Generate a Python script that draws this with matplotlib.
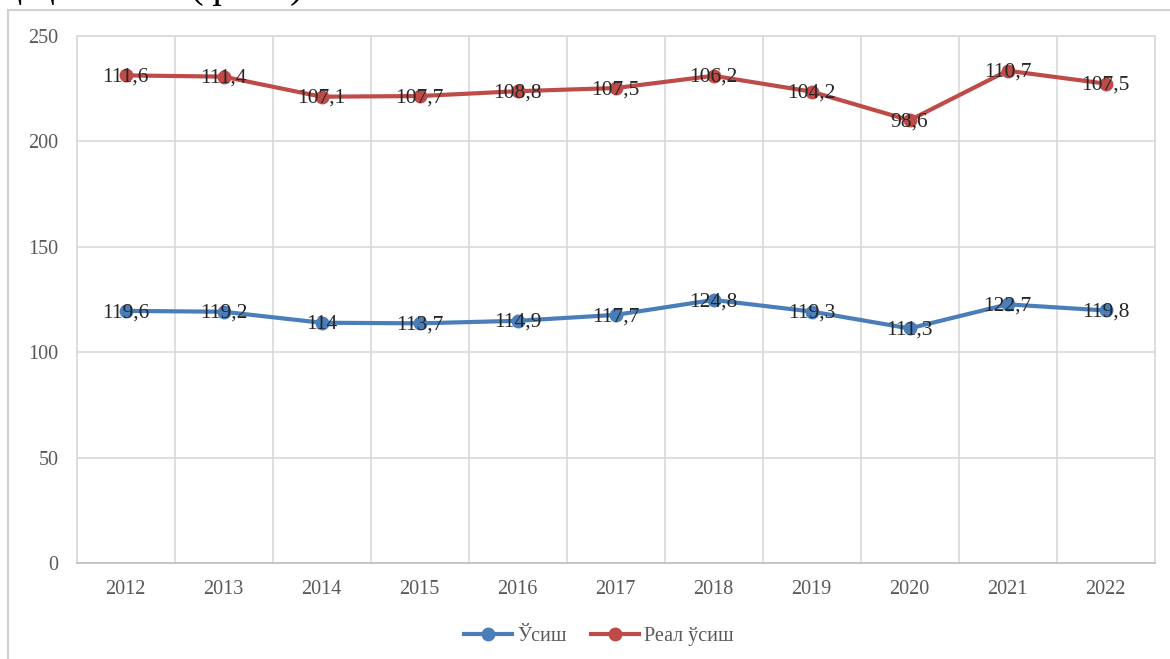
import matplotlib
matplotlib.use("Agg")
import matplotlib.pyplot as plt
from matplotlib.lines import Line2D
from matplotlib.patches import Rectangle
import numpy as np

years = ["2012", "2013", "2014", "2015", "2016", "2017", "2018", "2019", "2020", "2021", "2022"]
usish = [119.6, 119.2, 114.0, 113.7, 114.9, 117.7, 124.8, 119.3, 111.3, 122.7, 119.8]
real_usish = [111.6, 111.4, 107.1, 107.7, 108.8, 107.5, 106.2, 104.2, 98.6, 110.7, 107.5]
series_names = ["Ўсиш", "Реал ўсиш"]
yticks = [0, 50, 100, 150, 200, 250]

BLUE = "#4A7EBB"
RED = "#BE4B48"
GRID = "#D9D9D9"
TICK = "#595959"

plt.rcParams['font.family'] = ['Liberation Serif', 'DejaVu Serif']

fig = plt.figure(figsize=(11.7, 6.59), dpi=100)
W, H = 1170, 659

# chart area frame (cut off at right and bottom)
fig.patches.append(Rectangle((8 / W, -0.1), 1.2, (H - 10) / H + 0.1, transform=fig.transFigure,
                             fill=False, edgecolor="#D0D0D0", linewidth=1.5, zorder=0))
# clipped heading text from the document above
fig.text(0.0, (H - 6) / H, "ц ц             (фоиз)", fontsize=30, color="black",
         ha="left", va="bottom")

ax = fig.add_axes([76.5 / W, (H - 563.3) / H, (1154.5 - 76.5) / W, (563.3 - 35.7) / H])
x = np.arange(len(years))
blue = np.array(usish)
red_stack = blue + np.array(real_usish)

ax.plot(x, blue, color=BLUE, linewidth=3, marker="o", markersize=9, zorder=3)
ax.plot(x, red_stack, color=RED, linewidth=3, marker="o", markersize=9, zorder=3)

def fmt(v):
    return f"{v:g}".replace(".", ",")

for xi, yv, lab in zip(x, blue, usish):
    ax.text(xi, yv - 0.8, fmt(lab), ha="center", va="center", fontsize=15.5, color="#262626", zorder=4)
for xi, yv, lab in zip(x, red_stack, real_usish):
    ax.text(xi, yv - 0.8, fmt(lab), ha="center", va="center", fontsize=15.5, color="#262626", zorder=4)

ax.set_xlim(-0.5, len(years) - 0.5)
ax.set_ylim(0, 250)
ax.set_yticks(yticks)
ax.set_yticklabels([str(t) for t in yticks])
ax.set_xticks(x)
ax.set_xticklabels(years)
ax.set_xticks(np.arange(-0.5, len(years), 1.0), minor=True)
ax.tick_params(axis="both", which="both", length=0, colors=TICK, labelsize=14.5)
ax.tick_params(axis="y", pad=13)
ax.tick_params(axis="x", pad=12)
ax.grid(True, which="minor", axis="x", color=GRID, linewidth=1.2)
ax.grid(True, which="major", axis="y", color=GRID, linewidth=1.2)
ax.set_axisbelow(True)
for side in ["top", "right", "left"]:
    ax.spines[side].set_color(GRID)
    ax.spines[side].set_linewidth(1.2)
ax.spines["bottom"].set_color("#BFBFBF")
ax.spines["bottom"].set_linewidth(1.2)

handles = [Line2D([0], [0], color=BLUE, linewidth=3, marker="o", markersize=9),
           Line2D([0], [0], color=RED, linewidth=3, marker="o", markersize=9)]
leg = fig.legend(handles, series_names, loc="center", bbox_to_anchor=(599 / W, (H - 636) / H),
                 ncol=2, frameon=False, fontsize=14.5, handlelength=2.4, handletextpad=0.25,
                 columnspacing=1.2)
for t in leg.get_texts():
    t.set_color(TICK)

fig.savefig("out.png", dpi=100)
